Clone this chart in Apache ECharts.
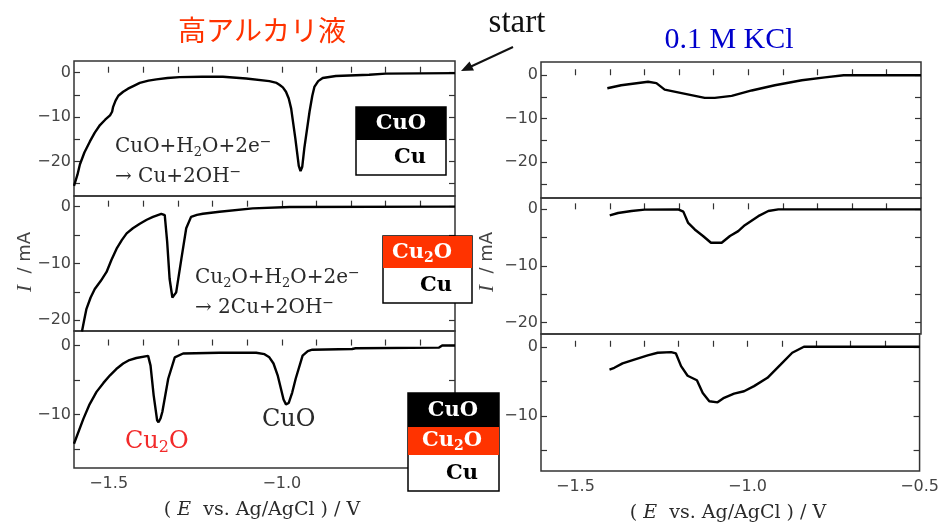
<!DOCTYPE html>
<html><head><meta charset="utf-8">
<script src="https://cdn.jsdelivr.net/npm/echarts@6/dist/echarts.min.js"></script>
<style>html,body{margin:0;padding:0;background:#fff}#c{width:942px;height:522px}</style>
</head><body><div id="c"></div>
<script>
// ---- data (E in V vs Ag/AgCl, I in mA) ----
const E_alk_CuO = [-1.600,-1.590,-1.583,-1.570,-1.554,-1.540,-1.525,-1.510,-1.496,-1.490,-1.487,-1.480,-1.472,-1.458,-1.444,-1.426,-1.410,-1.385,-1.362,-1.330,-1.295,-1.230,-1.170,-1.103,-1.036,-1.015,-1.007,-0.997,-0.988,-0.980,-0.973,-0.961,-0.951,-0.946,-0.941,-0.935,-0.920,-0.912,-0.906,-0.895,-0.882,-0.844,-0.748,-0.700,-0.500];
const I_alk_CuO = [-25.5,-23.0,-20.7,-18.0,-15.5,-13.5,-11.8,-10.6,-9.6,-8.8,-7.7,-6.3,-5.2,-4.3,-3.6,-2.9,-2.3,-1.8,-1.5,-1.2,-1.0,-0.9,-0.9,-1.3,-1.9,-2.3,-2.7,-3.3,-4.3,-5.8,-8.1,-14.8,-21.0,-22.2,-21.2,-17.0,-8.8,-5.2,-3.2,-1.9,-1.2,-0.75,-0.45,-0.2,-0.1];

const E_alk_Cu2O = [-1.577,-1.570,-1.564,-1.552,-1.540,-1.523,-1.506,-1.492,-1.477,-1.462,-1.448,-1.430,-1.410,-1.390,-1.372,-1.348,-1.338,-1.331,-1.324,-1.316,-1.312,-1.305,-1.290,-1.276,-1.262,-1.245,-1.228,-1.180,-1.084,-0.978,-0.500];
const I_alk_Cu2O = [-22.0,-19.8,-18.0,-16.0,-14.5,-13.1,-11.5,-9.4,-7.4,-5.9,-4.7,-3.8,-3.0,-2.3,-1.8,-1.25,-1.5,-6.2,-12.7,-16.0,-16.1,-15.1,-9.2,-3.8,-1.8,-1.45,-1.25,-0.9,-0.3,-0.06,0];

const E_alk_both = [-1.600,-1.573,-1.555,-1.535,-1.515,-1.496,-1.478,-1.458,-1.440,-1.420,-1.386,-1.379,-1.370,-1.360,-1.356,-1.350,-1.345,-1.328,-1.309,-1.285,-1.180,-1.074,-1.050,-1.036,-1.024,-1.012,-0.995,-0.988,-0.980,-0.970,-0.960,-0.940,-0.925,-0.912,-0.797,-0.787,-0.546,-0.537,-0.500];
const I_alk_both = [-14.2,-10.6,-8.5,-6.7,-5.4,-4.3,-3.4,-2.6,-2.1,-1.8,-1.5,-2.9,-7.2,-10.8,-11.1,-10.5,-9.6,-4.8,-1.7,-1.15,-1.05,-1.05,-1.25,-1.7,-2.6,-4.3,-7.8,-8.5,-8.3,-6.8,-4.8,-1.45,-0.8,-0.6,-0.5,-0.4,-0.3,0,0];

const E_kcl_CuO = [-1.408,-1.368,-1.329,-1.290,-1.266,-1.242,-1.193,-1.126,-1.097,-1.048,-0.990,-0.923,-0.845,-0.778,-0.724,-0.500];
const I_kcl_CuO = [-3.0,-2.3,-1.9,-1.5,-1.8,-3.3,-4.1,-5.2,-5.2,-4.75,-3.5,-2.3,-1.15,-0.5,0,0];

const E_kcl_Cu2O = [-1.401,-1.377,-1.338,-1.300,-1.203,-1.188,-1.174,-1.155,-1.131,-1.108,-1.077,-1.053,-1.029,-1.010,-0.971,-0.942,-0.913,-0.500];
const I_kcl_Cu2O = [-1.07,-0.65,-0.3,-0.06,0,-0.4,-2.4,-3.55,-4.7,-5.9,-5.9,-4.7,-3.85,-2.8,-1.2,-0.3,0,0];

const E_kcl_both = [-1.401,-1.387,-1.363,-1.329,-1.290,-1.261,-1.222,-1.208,-1.193,-1.174,-1.147,-1.130,-1.111,-1.087,-1.068,-1.039,-1.010,-0.981,-0.942,-0.904,-0.870,-0.836,-0.500];
const I_kcl_both = [-3.3,-3.05,-2.4,-1.85,-1.26,-0.87,-0.78,-0.97,-2.8,-4.2,-4.85,-6.7,-7.9,-8.05,-7.4,-6.8,-6.45,-5.7,-4.5,-2.6,-0.87,0,0];

const xTickValues = [-1.5,-1.4,-1.3,-1.2,-1.1,-1.0,-0.9,-0.8,-0.7,-0.6];
const xLabelsLeft = [-1.5,-1.0];
const xLabelsRight = [-1.5,-1.0,-0.5];
const yTicks30 = [-25,-20,-15,-10,-5,0];
const yLabels30 = [-20,-10,0];
const yTicks20 = [-15,-10,-5,0];
const yLabels20 = [-10,0];

// ---- layout ----
const panels = [
  {grid:{left:74,top:61,width:381,height:135}, y:[-27.8,2.64], yt:yTicks30, yl:yLabels30, E:E_alk_CuO, I:I_alk_CuO, xl:null},
  {grid:{left:74,top:196,width:381,height:135}, y:[-21.9,1.88], yt:yTicks30.slice(1), yl:yLabels30, E:E_alk_Cu2O, I:I_alk_Cu2O, xl:null},
  {grid:{left:74,top:331,width:381,height:137}, y:[-17.7,2.1], yt:yTicks20, yl:yLabels20, E:E_alk_both, I:I_alk_both, xl:xLabelsLeft},
  {grid:{left:541,top:62,width:380,height:136}, y:[-28.25,3.05], yt:yTicks30, yl:yLabels30, E:E_kcl_CuO, I:I_kcl_CuO, xl:null},
  {grid:{left:541,top:198,width:380,height:136}, y:[-22.0,2.0], yt:yTicks30.slice(1), yl:yLabels30, E:E_kcl_Cu2O, I:I_kcl_Cu2O, xl:null},
  {grid:{left:541,top:334,width:380,height:137}, y:[-18.0,1.85], yt:yTicks20, yl:yLabels20, E:E_kcl_both, I:I_kcl_both, xl:xLabelsRight}
];

const frameColor = '#333';
const labelFont = {fontFamily:'DejaVu Sans', fontSize:16, color:'#444'};
const minus = v => v === 0 ? '0' : (v < 0 ? '\u2212' : '') + Math.abs(v);
const minusX = v => (v < 0 ? '\u2212' : '') + Math.abs(v).toFixed(1);

const grid = [], xAxis = [], yAxis = [], series = [];
panels.forEach((p, i) => {
  grid.push(Object.assign({show:true, borderColor:frameColor, borderWidth:1.5, backgroundColor:'transparent', containLabel:false}, p.grid));
  xAxis.push({
    type:'value', gridIndex:i, min:-1.6, max:-0.5,
    axisLine:{show:false}, splitLine:{show:false},
    axisTick:{show:true, inside:true, length:6, customValues:xTickValues, lineStyle:{color:frameColor, width:1.2}},
    axisLabel: p.xl ? Object.assign({show:true, customValues:p.xl, margin:8, formatter:minusX}, labelFont) : {show:false}
  });
  yAxis.push({
    type:'value', gridIndex:i, position:'left', min:p.y[0], max:p.y[1],
    axisLine:{show:false}, splitLine:{show:false},
    axisTick:{show:true, inside:true, length:6, customValues:p.yt, lineStyle:{color:frameColor, width:1.2}},
    axisLabel:Object.assign({show:true, customValues:p.yl, margin:3, formatter:minus}, labelFont)
  });
  yAxis.push({
    type:'value', gridIndex:i, position:'right', min:p.y[0], max:p.y[1],
    axisLine:{show:false}, splitLine:{show:false},
    axisTick:{show:true, inside:true, length:6, customValues:p.yt, lineStyle:{color:frameColor, width:1.2}},
    axisLabel:{show:false}
  });
  series.push({
    type:'line', xAxisIndex:i, yAxisIndex:2*i, showSymbol:false, smooth:false, clip:true,
    lineStyle:{color:'#000', width:2.4}, data:p.E.map((e, k) => [e, p.I[k]])
  });
});

// ---- graphics (titles, labels, boxes) ----
const serif = 'DejaVu Serif';
const txtGray = '#2a2a2a';
const subRich = (size, color, bold) => ({
  s:{fontSize:Math.round(size*0.65), lineHeight:Math.round(size*0.65), verticalAlign:'bottom', fontFamily:serif, fill:color, fontWeight:bold?'bold':'normal'},
  p:{fontSize:Math.round(size*0.7), lineHeight:Math.round(size*0.45), verticalAlign:'top', fontFamily:serif, fill:color, fontWeight:bold?'bold':'normal'}
});
function richText(x, y, text, size, color, align, valign, bold){
  return {type:'text', z:100, x:x, y:y, style:{
    text:text, fontFamily:serif, fontSize:size, fontWeight:bold?'bold':'normal', fill:color,
    lineHeight:Math.round(size*1.2), textAlign:align||'left', textVerticalAlign:valign||'top',
    rich:subRich(size, color, bold)}};
}
function boxRect(x, y, w, h, fill, stroke){
  return {type:'rect', z:90, shape:{x:x, y:y, width:w, height:h}, style:{fill:fill, stroke:stroke||null, lineWidth:stroke?1.5:0}};
}
const red = '#ff3300';
const graphic = [
  {type:'text', z:100, x:262, y:30, style:{text:'高アルカリ液', fontFamily:'Noto Sans CJK JP', fontSize:28, fill:red, textAlign:'center', textVerticalAlign:'middle'}},
  {type:'text', z:100, x:729, y:40, style:{text:'0.1 M KCl', fontFamily:'Liberation Serif', fontSize:30, fill:'#0000cc', textAlign:'center', textVerticalAlign:'middle'}},
  {type:'text', z:100, x:517, y:23, style:{text:'start', fontFamily:'Liberation Serif', fontSize:33, fill:'#111', textAlign:'center', textVerticalAlign:'middle'}},
  {type:'line', z:100, shape:{x1:513, y1:47, x2:471, y2:66.5}, style:{stroke:'#111', lineWidth:2}},
  {type:'polygon', z:100, shape:{points:[[461,71],[474,70.5],[469.5,61.5]]}, style:{fill:'#111'}},

  richText(115, 135, 'CuO+H{s|2}O+2e{p|\u2212}', 20, txtGray),
  richText(115, 165, '\u2192 Cu+2OH{p|\u2212}', 20, txtGray),
  richText(195, 266, 'Cu{s|2}O+H{s|2}O+2e{p|\u2212}', 20, txtGray),
  richText(195, 296, '\u2192 2Cu+2OH{p|\u2212}', 20, txtGray),
  richText(125, 427, 'Cu{s|2}O', 24, '#f22a2a'),
  {type:'text', z:100, x:262, y:420, style:{text:'CuO', fontFamily:serif, fontSize:24, fill:txtGray, textAlign:'left', textVerticalAlign:'middle'}},

  boxRect(356, 107, 90, 68, '#fff', '#000'),
  boxRect(356, 107, 90, 33, '#000'),
  {type:'text', z:100, x:401, y:124, style:{text:'CuO', fontFamily:serif, fontWeight:'bold', fontSize:21, fill:'#fff', textAlign:'center', textVerticalAlign:'middle'}},
  {type:'text', z:100, x:410, y:158, style:{text:'Cu', fontFamily:serif, fontWeight:'bold', fontSize:21, fill:'#000', textAlign:'center', textVerticalAlign:'middle'}},

  boxRect(383, 236, 89, 67, '#fff', '#000'),
  boxRect(383, 236, 89, 32, red),
  richText(422, 240, 'Cu{s|2}O', 21, '#fff', 'center', 'top', true),
  {type:'text', z:100, x:436, y:286, style:{text:'Cu', fontFamily:serif, fontWeight:'bold', fontSize:21, fill:'#000', textAlign:'center', textVerticalAlign:'middle'}},

  boxRect(408, 393, 91, 98, '#fff', '#000'),
  boxRect(408, 393, 91, 34, '#000'),
  boxRect(408, 427, 91, 28, red),
  {type:'text', z:100, x:453, y:411, style:{text:'CuO', fontFamily:serif, fontWeight:'bold', fontSize:21, fill:'#fff', textAlign:'center', textVerticalAlign:'middle'}},
  richText(452, 428, 'Cu{s|2}O', 21, '#fff', 'center', 'top', true),
  {type:'text', z:100, x:462, y:474, style:{text:'Cu', fontFamily:serif, fontWeight:'bold', fontSize:21, fill:'#000', textAlign:'center', textVerticalAlign:'middle'}},

  {type:'text', z:100, x:25, y:262, rotation:Math.PI/2, style:{text:'{i|I}  / mA', fontFamily:'DejaVu Sans', fontSize:18, fill:'#444', textAlign:'center', textVerticalAlign:'middle', rich:{i:{fontFamily:'Liberation Serif', fontStyle:'italic', fontSize:21, fill:'#444'}}}},
  {type:'text', z:100, x:487, y:262, rotation:Math.PI/2, style:{text:'{i|I}  / mA', fontFamily:'DejaVu Sans', fontSize:18, fill:'#444', textAlign:'center', textVerticalAlign:'middle', rich:{i:{fontFamily:'Liberation Serif', fontStyle:'italic', fontSize:21, fill:'#444'}}}},
  {type:'text', z:100, x:262, y:510, style:{text:'( {i|E}  vs. Ag/AgCl ) / V', fontFamily:serif, fontSize:19, fill:txtGray, textAlign:'center', textVerticalAlign:'middle', rich:{i:{fontFamily:serif, fontStyle:'italic', fontSize:19, fill:txtGray}}}},
  {type:'text', z:100, x:728, y:513, style:{text:'( {i|E}  vs. Ag/AgCl ) / V', fontFamily:serif, fontSize:19, fill:txtGray, textAlign:'center', textVerticalAlign:'middle', rich:{i:{fontFamily:serif, fontStyle:'italic', fontSize:19, fill:txtGray}}}}
];

const chart = echarts.init(document.getElementById('c'), null, {renderer:'canvas'});
chart.setOption({animation:false, backgroundColor:'#fff', grid, xAxis, yAxis, series, graphic});
</script>
</body></html>
